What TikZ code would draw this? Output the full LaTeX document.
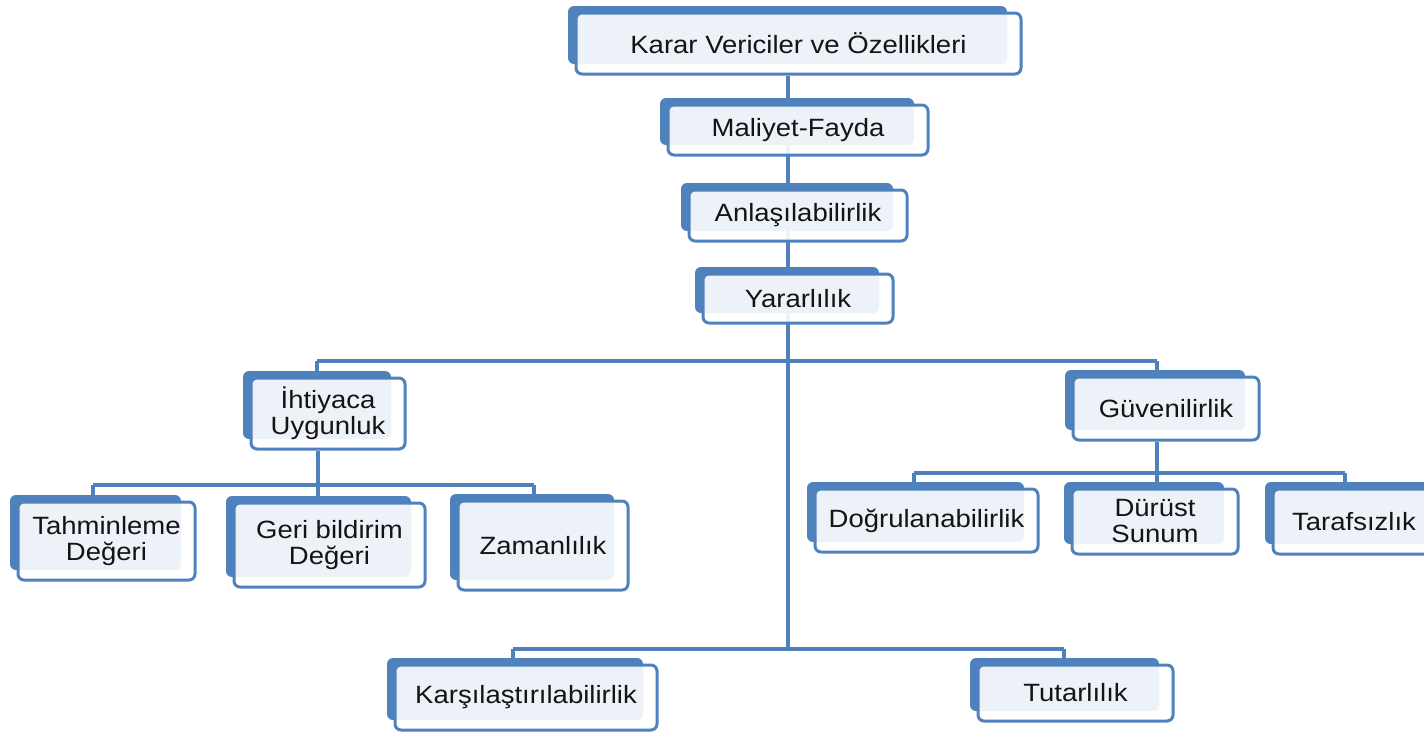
\documentclass[tikz,border=0pt]{standalone}
\usepackage{fontspec}
\setmainfont[FakeStretch=1.1]{Liberation Sans}
\pgfdeclarelayer{lines}
\pgfdeclarelayer{background}
\pgfsetlayers{lines,background,main}
\definecolor{kblue}{HTML}{4F81BD}
\definecolor{ktext}{HTML}{141414}
\tikzset{
  kback/.style={fill=kblue, rounded corners=6pt},
  kfront/.style={draw=kblue, line width=3pt, rounded corners=6pt, fill=white, fill opacity=0.9, text opacity=1,
    inner sep=0pt, align=center, text=ktext, font=\fontsize{25}{26}\selectfont},
  conn/.style={draw=kblue, line width=4pt}
}
\newcommand\kutu[6]{%
  \begin{pgfonlayer}{background}
    \fill[kback] (#2-8,#3-7) rectangle (#4-14,#5-10);
  \end{pgfonlayer}
  \node[kfront, minimum width=#4-#2, minimum height=#5-#3] (#1) at ({(#2+#4)/2},{(#3+#5)/2}) {#6};
}
\begin{document}
\begin{tikzpicture}[x=1pt,y=-1pt]
\useasboundingbox (0,0) rectangle (1424,731);
\kutu{karar}{576}{13}{1021}{74}{Karar Vericiler ve Özellikleri}
\kutu{maliyet}{668}{105}{928}{155}{Maliyet-Fayda}
\kutu{anlas}{689}{190}{907}{241}{Anlaşılabilirlik}
\kutu{yarar}{703}{274}{893}{323}{Yararlılık}
\kutu{ihtiyac}{251}{378}{405}{449}{İhtiyaca\\Uygunluk}
\kutu{guven}{1073}{377}{1259}{440}{Güvenilirlik}
\kutu{tahmin}{18}{502}{195}{580}{Tahminleme\\Değeri}
\kutu{geri}{234}{503}{425}{587}{Geri bildirim\\Değeri}
\kutu{zaman}{458}{501}{628}{590}{Zamanlılık}
\kutu{dogru}{815}{489}{1038}{552}{Doğrulanabilirlik}
\kutu{durust}{1072}{489}{1238}{554}{Dürüst\\Sunum}
\kutu{taraf}{1273}{489}{1445}{554}{\hspace*{-10pt}Tarafsızlık}
\kutu{karsi}{395}{665}{657}{730}{Karşılaştırılabilirlik}
\kutu{tutar}{978}{665}{1173}{721}{Tutarlılık}
\coordinate (jt) at (788,361);
\coordinate (jb) at (788,649);
\coordinate (hl) at (317,361);
\coordinate (hr) at (1157,361);
\coordinate (il) at (93,485);
\coordinate (im) at (318,485);
\coordinate (ir) at (534,485);
\coordinate (gl) at (914,473);
\coordinate (gm) at (1157,473);
\coordinate (gr) at (1345,473);
\coordinate (bl) at (513,649);
\coordinate (br) at (1064,649);
\begin{pgfonlayer}{lines}
  \draw[conn] (karar.south -| jt) -- (jb);
  \draw[conn] (hl) -- (hr);
  \draw[conn] (hl) -- (ihtiyac.north -| hl);
  \draw[conn] (hr) -- (guven.north -| hr);
  \draw[conn] (ihtiyac.south -| im) -- (im);
  \draw[conn] (il) -- (ir);
  \draw[conn] (il) -- (tahmin.north -| il);
  \draw[conn] (im) -- (geri.north -| im);
  \draw[conn] (ir) -- (zaman.north -| ir);
  \draw[conn] (guven.south -| gm) -- (gm);
  \draw[conn] (gl) -- (gr);
  \draw[conn] (gl) -- (dogru.north -| gl);
  \draw[conn] (gm) -- (durust.north -| gm);
  \draw[conn] (gr) -- (taraf.north -| gr);
  \draw[conn] (bl) -- (br);
  \draw[conn] (bl) -- (karsi.north -| bl);
  \draw[conn] (br) -- (tutar.north -| br);
\end{pgfonlayer}
\end{tikzpicture}
\end{document}
